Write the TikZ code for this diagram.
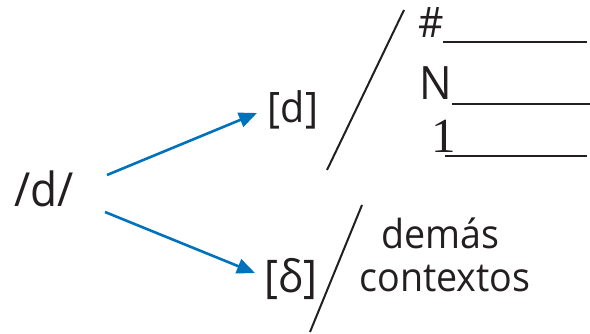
\documentclass[tikz,border=0pt]{standalone}
\usepackage{fontspec}
\setmainfont{Open Sans}[FakeStretch=0.94]
\newfontfamily\numfont{Liberation Serif}
\usetikzlibrary{arrows.meta}
\definecolor{inkblack}{RGB}{35,31,32}
\definecolor{arrowblue}{RGB}{0,114,188}
\newcommand{\fs}[1]{\fontsize{#1}{#1}\selectfont}
\tikzset{
  lbl/.style={inner sep=0pt, anchor=base, text=inkblack, font=\fs{40}},
  lblw/.style={lbl, anchor=base west},
  arr/.style={draw=arrowblue, line width=2.6pt, -{Triangle[length=18pt,width=15pt]}},
  slashline/.style={draw=inkblack, line width=2pt},
  blank/.style={draw=inkblack, line width=2pt}
}
\begin{document}
\begin{tikzpicture}[x=1pt,y=-1pt]
  \useasboundingbox (0,0) rectangle (590,334);
  % source phoneme and its two realisations
  \node[lbl, font=\fs{47}] (src) at (44,207) {/d/};
  \node[lbl, font=\fs{42}] (stop) at (293,123) {[d]};
  \node[lbl, font=\fs{45}] (fric) at (291,293) {[δ]};
  \coordinate (s1) at (107,175);
  \coordinate (s2) at (105,212);
  \coordinate (e1) at (257,113);
  \coordinate (e2) at (255,273);
  \draw[arr] (s1) -- (e1);
  \draw[arr] (s2) -- (e2);
  % environments of the stop
  \draw[slashline] (327,170) -- (404,10);
  \node[lblw, font=\fs{42}] (pause) at (418,38) {\#};
  \node[lblw, font=\fs{46}] (nasal) at (419,100) {N};
  \node[lblw, font=\fs{49}] (lat) at (431,153) {\numfont 1};
  \draw[blank] (443,42) -- (587,42);
  \draw[blank] (452,104) -- (590,104);
  \draw[blank] (445,156) -- (587,156);
  % environment of the fricative
  \draw[slashline] (310,332) -- (362,205);
  \node[lbl] (rest1) at (440,249) {demás};
  \node[lbl] (rest2) at (445,291) {contextos};
\end{tikzpicture}
\end{document}
